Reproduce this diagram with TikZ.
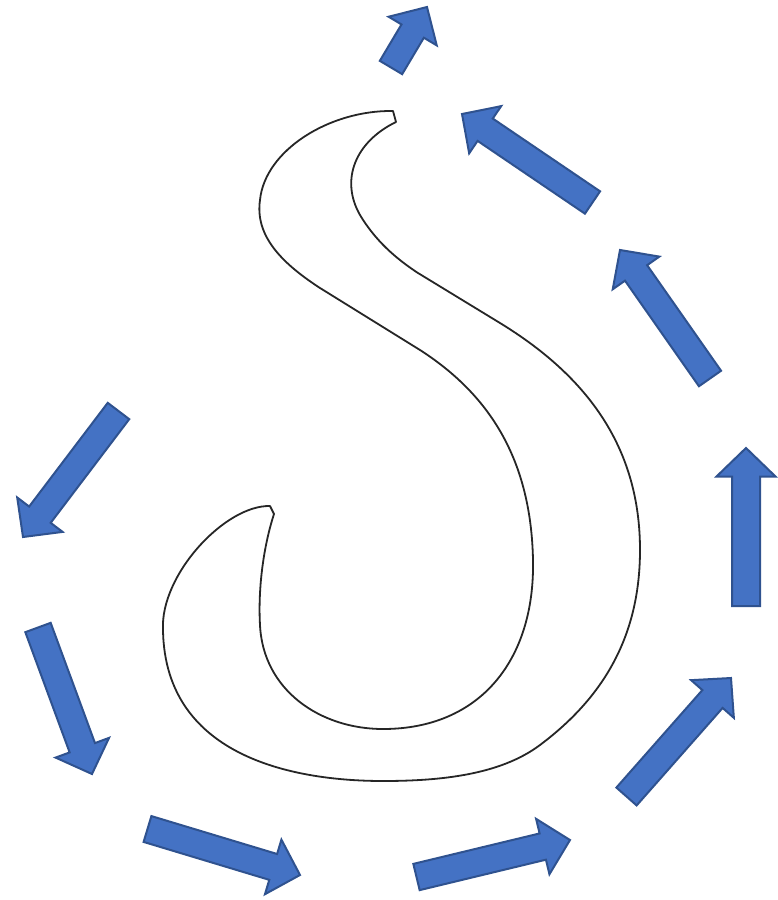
\documentclass[tikz,border=0pt]{standalone}
\usetikzlibrary{calc}
\definecolor{arrfill}{HTML}{4472C4}
\definecolor{arrline}{HTML}{2F528F}
\tikzset{
  blockarr/.style={fill=arrfill, draw=arrline, line width=2pt, line join=miter},
  sshape/.style={draw=black!85, line width=1.8pt, fill=white, line join=round}
}
% \barrow{tailx}{taily}{tipx}{tipy}{half shaft}{half head}{head length}
\newcommand\barrow[7]{%
  \pgfmathsetmacro\bdx{#3-#1}%
  \pgfmathsetmacro\bdy{#4-#2}%
  \pgfmathsetmacro\bL{veclen(\bdx,\bdy)}%
  \pgfmathsetmacro\bux{\bdx/\bL}%
  \pgfmathsetmacro\buy{\bdy/\bL}%
  \pgfmathsetmacro\bbx{#3-#7*\bux}%
  \pgfmathsetmacro\bby{#4-#7*\buy}%
  \draw[blockarr] ({#1-#5*\buy},{#2+#5*\bux}) -- ({\bbx-#5*\buy},{\bby+#5*\bux})
    -- ({\bbx-#6*\buy},{\bby+#6*\bux}) -- (#3,#4)
    -- ({\bbx+#6*\buy},{\bby-#6*\bux}) -- ({\bbx+#5*\buy},{\bby-#5*\bux})
    -- ({#1+#5*\buy},{#2-#5*\bux}) -- cycle;%
}
\begin{document}
\begin{tikzpicture}[x=1pt,y=-1pt]
\useasboundingbox (0,0) rectangle (777,900);
% S shape
\draw[sshape]
  (396,122) .. controls (355,142) and (340,180) .. (360,215)
  .. controls (375,240) and (395,258) .. (418,273)
  -- (500,323)
  .. controls (590,378) and (640,450) .. (640,550)
  .. controls (640,640) and (600,700) .. (540,745)
  .. controls (500,775) and (440,781) .. (383,781)
  .. controls (300,781) and (165,760) .. (163,630)
  .. controls (160,575) and (225,505) .. (270,506)
  -- (274,514)
  .. controls (263,548) and (258,590) .. (260,625)
  .. controls (263,690) and (320,729) .. (383,729)
  .. controls (480,729) and (535,660) .. (533,560)
  .. controls (531,460) and (490,395) .. (420,350)
  -- (320,288)
  .. controls (280,262) and (255,235) .. (260,200)
  .. controls (265,150) and (330,110) .. (393,111)
  -- cycle;
% arrows
\barrow{391}{67.5}{427}{7}{13}{28}{28}
\barrow{592.5}{202.5}{462}{114}{13.5}{28.5}{28}
\barrow{710}{378.5}{620}{250}{13.5}{28.5}{28}
\barrow{746}{606}{746}{448}{14}{29.5}{28.5}
\barrow{626.5}{796.5}{731}{678}{13.5}{28.5}{28}
\barrow{416.5}{877}{570}{840}{13.5}{28.5}{28}
\barrow{147.5}{829}{300}{875}{13.5}{28.5}{28}
\barrow{38}{627.5}{92}{774}{13.5}{28.5}{28}
\barrow{118.5}{411}{23}{537}{13.5}{28.5}{28}
\end{tikzpicture}
\end{document}
